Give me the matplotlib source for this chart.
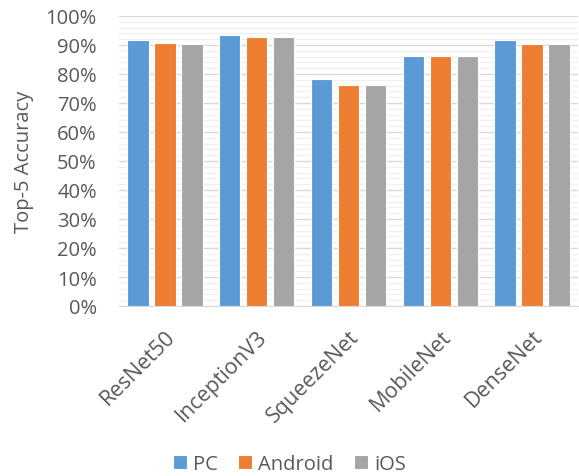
import numpy as np
import matplotlib
matplotlib.use("Agg")
import matplotlib.pyplot as plt
from matplotlib.ticker import MultipleLocator, PercentFormatter

models = ["ResNet50", "InceptionV3", "SqueezeNet", "MobileNet", "DenseNet"]
pc = [91.8, 93.6, 78.3, 86.1, 91.6]
android = [90.8, 92.9, 76.1, 86.3, 90.3]
ios = [90.5, 92.9, 76.1, 86.3, 90.3]

series = [("PC", pc, "#5B9BD5"), ("Android", android, "#ED7D31"), ("iOS", ios, "#A5A5A5")]

plt.rcParams["font.family"] = ["Open Sans", "DejaVu Sans"]
text_color = "#595959"
fs = 14.5

fig = plt.figure(figsize=(5.79, 4.77), dpi=100)
ax = fig.add_axes([119 / 579, 1 - 307 / 477, 459 / 579, 290 / 477])

x = np.arange(len(models))
width = 0.235
step = 0.294
for i, (name, vals, color) in enumerate(series):
    ax.bar(x + (i - 1) * step, vals, width, color=color, label=name,
           edgecolor="white", linewidth=0.8, zorder=3)

ax.set_xlim(-0.5, len(models) - 0.5)
ax.set_ylim(0, 100)
ax.yaxis.set_major_locator(MultipleLocator(10))
ax.yaxis.set_minor_locator(MultipleLocator(2))
ax.yaxis.set_major_formatter(PercentFormatter(decimals=0))
ax.grid(which="major", axis="y", color="#d9d9d9", linewidth=1.0, zorder=0)
ax.grid(which="minor", axis="y", color="#f0f0f0", linewidth=1.0, zorder=0)
ax.tick_params(axis="both", which="both", length=0, colors=text_color, labelsize=fs)
ax.tick_params(axis="y", pad=16)
ax.tick_params(axis="x", pad=14, labelsize=15.5)

ax.set_xticks(x)
ax.set_xticklabels(models, rotation=45, ha="right", rotation_mode="anchor")
for s in ["top", "right", "left"]:
    ax.spines[s].set_visible(False)
ax.spines["bottom"].set_color("#d9d9d9")

ax.set_ylabel("Top-5 Accuracy", color=text_color, fontsize=fs, labelpad=8)

fig.legend(loc="center", bbox_to_anchor=(0.5, 1 - 465 / 477), ncol=3, frameon=False,
           fontsize=fs, handlelength=0.7, handleheight=0.7, handletextpad=0.3,
           columnspacing=1.0, labelcolor=text_color)

fig.savefig("out.png", dpi=100)
